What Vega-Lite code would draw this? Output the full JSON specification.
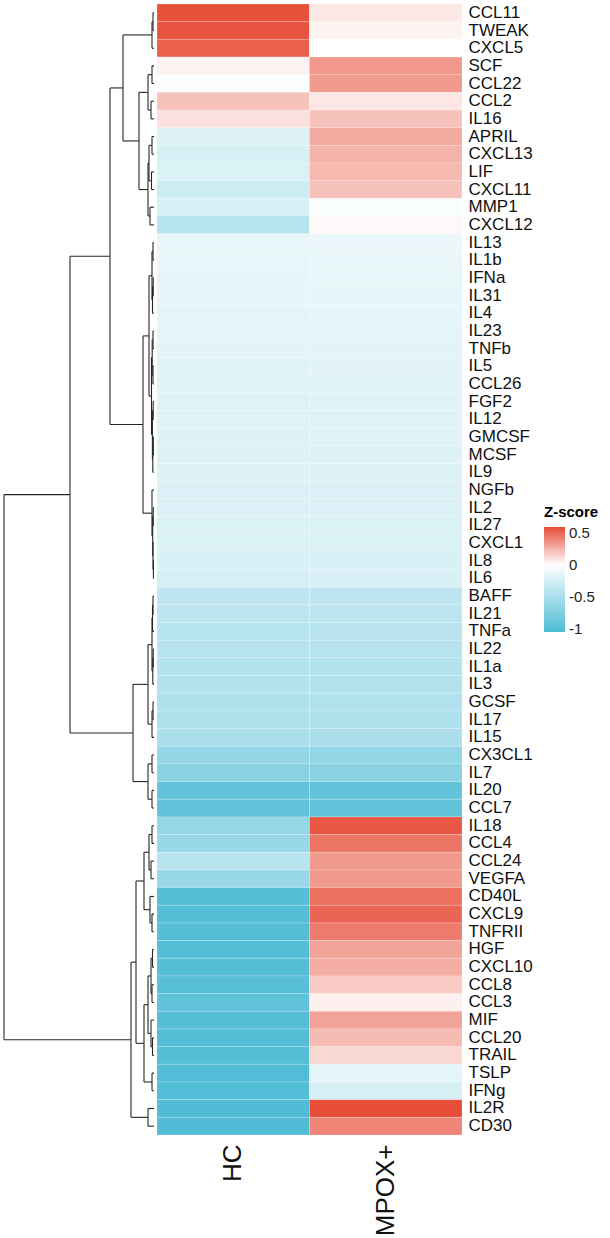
{
  "$schema": "https://vega.github.io/schema/vega-lite/v6.json",
  "padding": {"left": 3, "top": 3, "right": 0, "bottom": 0},
  "background": "white",
  "config": {
    "view": {"stroke": null},
    "font": "Liberation Sans",
    "concat": {"spacing": 1}
  },
  "datasets": {
    "cells": [
      {"gene": "CCL11", "group": "HC", "z": 0.57}, {"gene": "CCL11", "group": "MPOX+", "z": 0.075},
      {"gene": "TWEAK", "group": "HC", "z": 0.56}, {"gene": "TWEAK", "group": "MPOX+", "z": 0.04},
      {"gene": "CXCL5", "group": "HC", "z": 0.52}, {"gene": "CXCL5", "group": "MPOX+", "z": 0.0},
      {"gene": "SCF", "group": "HC", "z": 0.04}, {"gene": "SCF", "group": "MPOX+", "z": 0.34},
      {"gene": "CCL22", "group": "HC", "z": -0.01}, {"gene": "CCL22", "group": "MPOX+", "z": 0.33},
      {"gene": "CCL2", "group": "HC", "z": 0.2}, {"gene": "CCL2", "group": "MPOX+", "z": 0.08},
      {"gene": "IL16", "group": "HC", "z": 0.1}, {"gene": "IL16", "group": "MPOX+", "z": 0.2},
      {"gene": "APRIL", "group": "HC", "z": -0.2}, {"gene": "APRIL", "group": "MPOX+", "z": 0.28},
      {"gene": "CXCL13", "group": "HC", "z": -0.25}, {"gene": "CXCL13", "group": "MPOX+", "z": 0.25},
      {"gene": "LIF", "group": "HC", "z": -0.22}, {"gene": "LIF", "group": "MPOX+", "z": 0.23},
      {"gene": "CXCL11", "group": "HC", "z": -0.3}, {"gene": "CXCL11", "group": "MPOX+", "z": 0.2},
      {"gene": "MMP1", "group": "HC", "z": -0.24}, {"gene": "MMP1", "group": "MPOX+", "z": -0.03},
      {"gene": "CXCL12", "group": "HC", "z": -0.42}, {"gene": "CXCL12", "group": "MPOX+", "z": 0.02},
      {"gene": "IL13", "group": "HC", "z": -0.13}, {"gene": "IL13", "group": "MPOX+", "z": -0.12},
      {"gene": "IL1b", "group": "HC", "z": -0.14}, {"gene": "IL1b", "group": "MPOX+", "z": -0.13},
      {"gene": "IFNa", "group": "HC", "z": -0.15}, {"gene": "IFNa", "group": "MPOX+", "z": -0.14},
      {"gene": "IL31", "group": "HC", "z": -0.15}, {"gene": "IL31", "group": "MPOX+", "z": -0.15},
      {"gene": "IL4", "group": "HC", "z": -0.16}, {"gene": "IL4", "group": "MPOX+", "z": -0.15},
      {"gene": "IL23", "group": "HC", "z": -0.16}, {"gene": "IL23", "group": "MPOX+", "z": -0.16},
      {"gene": "TNFb", "group": "HC", "z": -0.17}, {"gene": "TNFb", "group": "MPOX+", "z": -0.17},
      {"gene": "IL5", "group": "HC", "z": -0.18}, {"gene": "IL5", "group": "MPOX+", "z": -0.17},
      {"gene": "CCL26", "group": "HC", "z": -0.18}, {"gene": "CCL26", "group": "MPOX+", "z": -0.18},
      {"gene": "FGF2", "group": "HC", "z": -0.19}, {"gene": "FGF2", "group": "MPOX+", "z": -0.18},
      {"gene": "IL12", "group": "HC", "z": -0.19}, {"gene": "IL12", "group": "MPOX+", "z": -0.19},
      {"gene": "GMCSF", "group": "HC", "z": -0.2}, {"gene": "GMCSF", "group": "MPOX+", "z": -0.19},
      {"gene": "MCSF", "group": "HC", "z": -0.2}, {"gene": "MCSF", "group": "MPOX+", "z": -0.2},
      {"gene": "IL9", "group": "HC", "z": -0.2}, {"gene": "IL9", "group": "MPOX+", "z": -0.2},
      {"gene": "NGFb", "group": "HC", "z": -0.21}, {"gene": "NGFb", "group": "MPOX+", "z": -0.21},
      {"gene": "IL2", "group": "HC", "z": -0.21}, {"gene": "IL2", "group": "MPOX+", "z": -0.21},
      {"gene": "IL27", "group": "HC", "z": -0.22}, {"gene": "IL27", "group": "MPOX+", "z": -0.22},
      {"gene": "CXCL1", "group": "HC", "z": -0.22}, {"gene": "CXCL1", "group": "MPOX+", "z": -0.22},
      {"gene": "IL8", "group": "HC", "z": -0.23}, {"gene": "IL8", "group": "MPOX+", "z": -0.23},
      {"gene": "IL6", "group": "HC", "z": -0.24}, {"gene": "IL6", "group": "MPOX+", "z": -0.23},
      {"gene": "BAFF", "group": "HC", "z": -0.38}, {"gene": "BAFF", "group": "MPOX+", "z": -0.38},
      {"gene": "IL21", "group": "HC", "z": -0.4}, {"gene": "IL21", "group": "MPOX+", "z": -0.4},
      {"gene": "TNFa", "group": "HC", "z": -0.42}, {"gene": "TNFa", "group": "MPOX+", "z": -0.41},
      {"gene": "IL22", "group": "HC", "z": -0.43}, {"gene": "IL22", "group": "MPOX+", "z": -0.43},
      {"gene": "IL1a", "group": "HC", "z": -0.44}, {"gene": "IL1a", "group": "MPOX+", "z": -0.44},
      {"gene": "IL3", "group": "HC", "z": -0.45}, {"gene": "IL3", "group": "MPOX+", "z": -0.45},
      {"gene": "GCSF", "group": "HC", "z": -0.47}, {"gene": "GCSF", "group": "MPOX+", "z": -0.46},
      {"gene": "IL17", "group": "HC", "z": -0.48}, {"gene": "IL17", "group": "MPOX+", "z": -0.47},
      {"gene": "IL15", "group": "HC", "z": -0.5}, {"gene": "IL15", "group": "MPOX+", "z": -0.49},
      {"gene": "CX3CL1", "group": "HC", "z": -0.64}, {"gene": "CX3CL1", "group": "MPOX+", "z": -0.64},
      {"gene": "IL7", "group": "HC", "z": -0.7}, {"gene": "IL7", "group": "MPOX+", "z": -0.69},
      {"gene": "IL20", "group": "HC", "z": -0.92}, {"gene": "IL20", "group": "MPOX+", "z": -0.92},
      {"gene": "CCL7", "group": "HC", "z": -0.93}, {"gene": "CCL7", "group": "MPOX+", "z": -0.92},
      {"gene": "IL18", "group": "HC", "z": -0.62}, {"gene": "IL18", "group": "MPOX+", "z": 0.55},
      {"gene": "CCL4", "group": "HC", "z": -0.6}, {"gene": "CCL4", "group": "MPOX+", "z": 0.45},
      {"gene": "CCL24", "group": "HC", "z": -0.42}, {"gene": "CCL24", "group": "MPOX+", "z": 0.33},
      {"gene": "VEGFA", "group": "HC", "z": -0.6}, {"gene": "VEGFA", "group": "MPOX+", "z": 0.33},
      {"gene": "CD40L", "group": "HC", "z": -1.0}, {"gene": "CD40L", "group": "MPOX+", "z": 0.47},
      {"gene": "CXCL9", "group": "HC", "z": -1.0}, {"gene": "CXCL9", "group": "MPOX+", "z": 0.5},
      {"gene": "TNFRII", "group": "HC", "z": -1.0}, {"gene": "TNFRII", "group": "MPOX+", "z": 0.43},
      {"gene": "HGF", "group": "HC", "z": -1.01}, {"gene": "HGF", "group": "MPOX+", "z": 0.3},
      {"gene": "CXCL10", "group": "HC", "z": -1.0}, {"gene": "CXCL10", "group": "MPOX+", "z": 0.27},
      {"gene": "CCL8", "group": "HC", "z": -0.99}, {"gene": "CCL8", "group": "MPOX+", "z": 0.17},
      {"gene": "CCL3", "group": "HC", "z": -0.93}, {"gene": "CCL3", "group": "MPOX+", "z": 0.05},
      {"gene": "MIF", "group": "HC", "z": -1.0}, {"gene": "MIF", "group": "MPOX+", "z": 0.3},
      {"gene": "CCL20", "group": "HC", "z": -1.0}, {"gene": "CCL20", "group": "MPOX+", "z": 0.22},
      {"gene": "TRAIL", "group": "HC", "z": -1.0}, {"gene": "TRAIL", "group": "MPOX+", "z": 0.13},
      {"gene": "TSLP", "group": "HC", "z": -1.02}, {"gene": "TSLP", "group": "MPOX+", "z": -0.16},
      {"gene": "IFNg", "group": "HC", "z": -1.02}, {"gene": "IFNg", "group": "MPOX+", "z": -0.24},
      {"gene": "IL2R", "group": "HC", "z": -1.03}, {"gene": "IL2R", "group": "MPOX+", "z": 0.58},
      {"gene": "CD30", "group": "HC", "z": -1.03}, {"gene": "CD30", "group": "MPOX+", "z": 0.4}
    ],
    "tree": [
      {"y": 0.5, "h": 0, "hp": 1, "yp": 1.0}, {"y": 1.5, "h": 0, "hp": 1, "yp": 1.0},
      {"y": 2.5, "h": 0, "hp": 2, "yp": 1.75}, {"y": 1.0, "h": 1, "hp": 2, "yp": 1.75},
      {"y": 1.75, "h": 2, "hp": 31, "yp": 4.75},
      {"y": 3.5, "h": 0, "hp": 2, "yp": 4.0}, {"y": 4.5, "h": 0, "hp": 2, "yp": 4.0},
      {"y": 5.5, "h": 0, "hp": 3, "yp": 6.0}, {"y": 6.5, "h": 0, "hp": 3, "yp": 6.0},
      {"y": 4.0, "h": 2, "hp": 6, "yp": 5.0}, {"y": 6.0, "h": 3, "hp": 6, "yp": 5.0},
      {"y": 7.5, "h": 0, "hp": 2, "yp": 8.0}, {"y": 8.5, "h": 0, "hp": 2, "yp": 8.0},
      {"y": 9.5, "h": 0, "hp": 2.5, "yp": 10.0}, {"y": 10.5, "h": 0, "hp": 2.5, "yp": 10.0},
      {"y": 8.0, "h": 2, "hp": 5, "yp": 9.0}, {"y": 10.0, "h": 2.5, "hp": 5, "yp": 9.0},
      {"y": 11.5, "h": 0, "hp": 4, "yp": 12.0}, {"y": 12.5, "h": 0, "hp": 4, "yp": 12.0},
      {"y": 9.0, "h": 5, "hp": 6, "yp": 10.5}, {"y": 12.0, "h": 4, "hp": 6, "yp": 10.5},
      {"y": 5.0, "h": 6, "hp": 15, "yp": 7.75}, {"y": 10.5, "h": 6, "hp": 15, "yp": 7.75},
      {"y": 7.75, "h": 15, "hp": 31, "yp": 4.75},
      {"y": 4.75, "h": 31, "hp": 44, "yp": 14.273},
      {"y": 13.5, "h": 0, "hp": 1, "yp": 14.0}, {"y": 14.5, "h": 0, "hp": 1, "yp": 14.0},
      {"y": 15.5, "h": 0, "hp": 0.8, "yp": 16.0}, {"y": 16.5, "h": 0, "hp": 0.8, "yp": 16.0},
      {"y": 16.0, "h": 0.8, "hp": 1.5, "yp": 16.75}, {"y": 17.5, "h": 0, "hp": 1.5, "yp": 16.75},
      {"y": 14.0, "h": 1, "hp": 2, "yp": 15.375}, {"y": 16.75, "h": 1.5, "hp": 2, "yp": 15.375},
      {"y": 18.5, "h": 0, "hp": 1, "yp": 19.0}, {"y": 19.5, "h": 0, "hp": 1, "yp": 19.0},
      {"y": 20.5, "h": 0, "hp": 1, "yp": 21.0}, {"y": 21.5, "h": 0, "hp": 1, "yp": 21.0},
      {"y": 19.0, "h": 1, "hp": 1.8, "yp": 20.0}, {"y": 21.0, "h": 1, "hp": 1.8, "yp": 20.0},
      {"y": 22.5, "h": 0, "hp": 0.8, "yp": 23.0}, {"y": 23.5, "h": 0, "hp": 0.8, "yp": 23.0},
      {"y": 24.5, "h": 0, "hp": 0.7, "yp": 25.0}, {"y": 25.5, "h": 0, "hp": 0.7, "yp": 25.0},
      {"y": 25.0, "h": 0.7, "hp": 1.2, "yp": 25.75}, {"y": 26.5, "h": 0, "hp": 1.2, "yp": 25.75},
      {"y": 23.0, "h": 0.8, "hp": 1.6, "yp": 24.375}, {"y": 25.75, "h": 1.2, "hp": 1.6, "yp": 24.375},
      {"y": 20.0, "h": 1.8, "hp": 2.5, "yp": 22.188}, {"y": 24.375, "h": 1.6, "hp": 2.5, "yp": 22.188},
      {"y": 15.375, "h": 2, "hp": 5, "yp": 18.781}, {"y": 22.188, "h": 2.5, "hp": 5, "yp": 18.781},
      {"y": 28.5, "h": 0, "hp": 0.8, "yp": 29.0}, {"y": 29.5, "h": 0, "hp": 0.8, "yp": 29.0},
      {"y": 31.5, "h": 0, "hp": 0.6, "yp": 32.0}, {"y": 32.5, "h": 0, "hp": 0.6, "yp": 32.0},
      {"y": 30.5, "h": 0, "hp": 1, "yp": 31.25}, {"y": 32.0, "h": 0.6, "hp": 1, "yp": 31.25},
      {"y": 29.0, "h": 0.8, "hp": 1.3, "yp": 30.125}, {"y": 31.25, "h": 1, "hp": 1.3, "yp": 30.125},
      {"y": 27.5, "h": 0, "hp": 2, "yp": 28.813}, {"y": 30.125, "h": 1.3, "hp": 2, "yp": 28.813},
      {"y": 18.781, "h": 5, "hp": 11, "yp": 23.797}, {"y": 28.813, "h": 2, "hp": 11, "yp": 23.797},
      {"y": 23.797, "h": 11, "hp": 44, "yp": 14.273},
      {"y": 14.273, "h": 44, "hp": 84, "yp": 27.762},
      {"y": 33.5, "h": 0, "hp": 1, "yp": 34.0}, {"y": 34.5, "h": 0, "hp": 1, "yp": 34.0},
      {"y": 34.0, "h": 1, "hp": 1.5, "yp": 34.75}, {"y": 35.5, "h": 0, "hp": 1.5, "yp": 34.75},
      {"y": 36.5, "h": 0, "hp": 0.8, "yp": 37.0}, {"y": 37.5, "h": 0, "hp": 0.8, "yp": 37.0},
      {"y": 37.0, "h": 0.8, "hp": 1.2, "yp": 37.75}, {"y": 38.5, "h": 0, "hp": 1.2, "yp": 37.75},
      {"y": 34.75, "h": 1.5, "hp": 2, "yp": 36.25}, {"y": 37.75, "h": 1.2, "hp": 2, "yp": 36.25},
      {"y": 39.5, "h": 0, "hp": 1, "yp": 40.0}, {"y": 40.5, "h": 0, "hp": 1, "yp": 40.0},
      {"y": 40.0, "h": 1, "hp": 2, "yp": 40.75}, {"y": 41.5, "h": 0, "hp": 2, "yp": 40.75},
      {"y": 36.25, "h": 2, "hp": 6, "yp": 38.5}, {"y": 40.75, "h": 2, "hp": 6, "yp": 38.5},
      {"y": 42.5, "h": 0, "hp": 2, "yp": 43.0}, {"y": 43.5, "h": 0, "hp": 2, "yp": 43.0},
      {"y": 44.5, "h": 0, "hp": 2, "yp": 45.0}, {"y": 45.5, "h": 0, "hp": 2, "yp": 45.0},
      {"y": 43.0, "h": 2, "hp": 6, "yp": 44.0}, {"y": 45.0, "h": 2, "hp": 6, "yp": 44.0},
      {"y": 38.5, "h": 6, "hp": 21, "yp": 41.25}, {"y": 44.0, "h": 6, "hp": 21, "yp": 41.25},
      {"y": 41.25, "h": 21, "hp": 84, "yp": 27.762},
      {"y": 27.762, "h": 84, "hp": 150, "yp": 43.186},
      {"y": 46.5, "h": 0, "hp": 2, "yp": 47.0}, {"y": 47.5, "h": 0, "hp": 2, "yp": 47.0},
      {"y": 48.5, "h": 0, "hp": 3, "yp": 49.0}, {"y": 49.5, "h": 0, "hp": 3, "yp": 49.0},
      {"y": 47.0, "h": 2, "hp": 5, "yp": 48.0}, {"y": 49.0, "h": 3, "hp": 5, "yp": 48.0},
      {"y": 51.5, "h": 0, "hp": 2, "yp": 52.0}, {"y": 52.5, "h": 0, "hp": 2, "yp": 52.0},
      {"y": 50.5, "h": 0, "hp": 4, "yp": 51.25}, {"y": 52.0, "h": 2, "hp": 4, "yp": 51.25},
      {"y": 48.0, "h": 5, "hp": 10, "yp": 49.625}, {"y": 51.25, "h": 4, "hp": 10, "yp": 49.625},
      {"y": 53.5, "h": 0, "hp": 1.5, "yp": 54.0}, {"y": 54.5, "h": 0, "hp": 1.5, "yp": 54.0},
      {"y": 55.5, "h": 0, "hp": 2, "yp": 56.0}, {"y": 56.5, "h": 0, "hp": 2, "yp": 56.0},
      {"y": 54.0, "h": 1.5, "hp": 3, "yp": 55.0}, {"y": 56.0, "h": 2, "hp": 3, "yp": 55.0},
      {"y": 58.5, "h": 0, "hp": 1.5, "yp": 59.0}, {"y": 59.5, "h": 0, "hp": 1.5, "yp": 59.0},
      {"y": 57.5, "h": 0, "hp": 3, "yp": 58.25}, {"y": 59.0, "h": 1.5, "hp": 3, "yp": 58.25},
      {"y": 55.0, "h": 3, "hp": 6, "yp": 56.625}, {"y": 58.25, "h": 3, "hp": 6, "yp": 56.625},
      {"y": 60.5, "h": 0, "hp": 2, "yp": 61.0}, {"y": 61.5, "h": 0, "hp": 2, "yp": 61.0},
      {"y": 56.625, "h": 6, "hp": 10, "yp": 58.813}, {"y": 61.0, "h": 2, "hp": 10, "yp": 58.813},
      {"y": 49.625, "h": 10, "hp": 18, "yp": 54.219}, {"y": 58.813, "h": 10, "hp": 18, "yp": 54.219},
      {"y": 62.5, "h": 0, "hp": 6, "yp": 63.0}, {"y": 63.5, "h": 0, "hp": 6, "yp": 63.0},
      {"y": 54.219, "h": 18, "hp": 23, "yp": 58.609}, {"y": 63.0, "h": 6, "hp": 23, "yp": 58.609},
      {"y": 58.609, "h": 23, "hp": 150, "yp": 43.186}
    ]
  },
  "hconcat": [
    {
      "width": 150,
      "height": 1131,
      "data": {"name": "tree"},
      "layer": [
        {
          "mark": {"type": "rule", "color": "#262626", "strokeWidth": 1.1},
          "encoding": {
            "x": {"field": "h", "type": "quantitative", "scale": {"domain": [150, 0], "nice": false, "zero": false}, "axis": null},
            "x2": {"field": "hp"},
            "y": {"field": "y", "type": "quantitative", "scale": {"domain": [0, 64], "reverse": true, "nice": false, "zero": false}, "axis": null}
          }
        },
        {
          "mark": {"type": "rule", "color": "#262626", "strokeWidth": 1.1},
          "encoding": {
            "x": {"field": "hp", "type": "quantitative", "scale": {"domain": [150, 0], "nice": false, "zero": false}, "axis": null},
            "y": {"field": "y", "type": "quantitative", "scale": {"domain": [0, 64], "reverse": true, "nice": false, "zero": false}, "axis": null},
            "y2": {"field": "yp"}
          }
        }
      ]
    },
    {
      "width": 305,
      "height": 1131,
      "data": {"name": "cells"},
      "mark": {"type": "rect", "stroke": "#ffffff", "strokeWidth": 0.4, "strokeOpacity": 0.5},
      "encoding": {
        "x": {
          "field": "group", "type": "nominal", "sort": ["HC", "MPOX+"],
          "scale": {"paddingInner": 0, "paddingOuter": 0},
          "axis": {"title": null, "labelAngle": -90, "labelFontSize": 26, "labelPadding": 9, "ticks": false, "domain": false, "labelColor": "#111111", "labelFont": "Liberation Sans"}
        },
        "y": {
          "field": "gene", "type": "nominal",
          "sort": ["CCL11", "TWEAK", "CXCL5", "SCF", "CCL22", "CCL2", "IL16", "APRIL", "CXCL13", "LIF", "CXCL11", "MMP1", "CXCL12", "IL13", "IL1b", "IFNa", "IL31", "IL4", "IL23", "TNFb", "IL5", "CCL26", "FGF2", "IL12", "GMCSF", "MCSF", "IL9", "NGFb", "IL2", "IL27", "CXCL1", "IL8", "IL6", "BAFF", "IL21", "TNFa", "IL22", "IL1a", "IL3", "GCSF", "IL17", "IL15", "CX3CL1", "IL7", "IL20", "CCL7", "IL18", "CCL4", "CCL24", "VEGFA", "CD40L", "CXCL9", "TNFRII", "HGF", "CXCL10", "CCL8", "CCL3", "MIF", "CCL20", "TRAIL", "TSLP", "IFNg", "IL2R", "CD30"],
          "scale": {"paddingInner": 0, "paddingOuter": 0},
          "axis": {"orient": "right", "title": null, "labelFontSize": 17, "labelPadding": 6, "ticks": false, "domain": false, "labelColor": "#111111", "labelFont": "Liberation Sans"}
        },
        "color": {
          "field": "z", "type": "quantitative",
          "scale": {"domain": [-1.05, 0, 0.59], "range": ["#4DBBD5", "#FFFFFF", "#E64B35"], "interpolate": "rgb"},
          "legend": {
            "title": "Z-score", "orient": "none", "legendX": 540, "legendY": 501, "direction": "vertical",
            "gradientLength": 105, "gradientThickness": 21, "gradientStrokeWidth": 0,
            "values": [0.5, 0, -0.5, -1], "labelExpr": "'' + datum.value",
            "labelFontSize": 15, "labelOffset": 4, "labelColor": "#222222",
            "titleFontSize": 15, "titleFontWeight": "bold", "titlePadding": 7, "titleColor": "#000000"
          }
        }
      }
    }
  ],
  "resolve": {"scale": {"x": "independent", "y": "independent"}}
}
